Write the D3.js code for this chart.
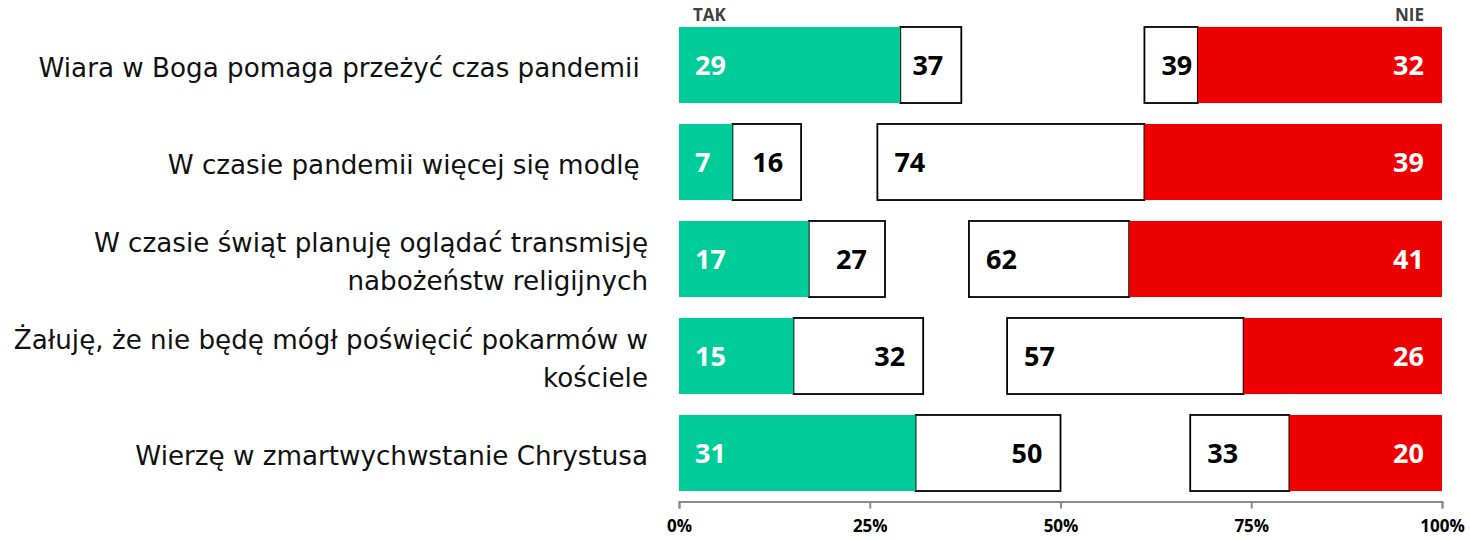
<!DOCTYPE html>
<html>
<head>
<meta charset="utf-8">
<script src="https://cdn.jsdelivr.net/npm/d3@7"></script>
<style>
    body { margin: 0; background: #fff; }
    .category { font-family: "DejaVu Sans", sans-serif; font-size: 26.2px; fill: #111; white-space: pre; }
    .valueDark { font-family: "Open Sans", sans-serif; font-weight: 700; font-size: 27px; fill: #000; }
    .valueLight { font-family: "Open Sans", sans-serif; font-weight: 700; font-size: 27px; fill: #fff; }
    .header { font-family: "Open Sans", sans-serif; font-weight: 700; font-size: 17px; fill: #404040; }
    .axis text { font-family: "Open Sans", sans-serif; font-weight: 700; font-size: 17px; fill: #000; }
    .axis path, .axis line { stroke: #8c8c8c; stroke-width: 2; }
</style>
</head>
<body>
<div id="chart"></div>
<script>
    // rows (long labels split into lines)
    const categories = [
        ["Wiara w Boga pomaga przeżyć czas pandemii "],
        ["W czasie pandemii więcej się modlę "],
        ["W czasie świąt planuję oglądać transmisję", "nabożeństw religijnych"],
        ["Żałuję, że nie będę mógł poświęcić pokarmów w", "kościele"],
        ["Wierzę w zmartwychwstanie Chrystusa"]
    ];
    const takStrong = [29, 7, 17, 15, 31];   // "zdecydowanie tak"
    const takTotal = [37, 16, 27, 32, 50];   // "tak" razem
    const nieTotal = [39, 74, 62, 57, 33];   // "nie" razem
    const nieStrong = [32, 39, 41, 26, 20];  // "zdecydowanie nie"
    const tickValues = [0, 25, 50, 75, 100];

    const width = 1470, height = 540;
    const green = "#00cc99", red = "#ee0000";

    let svg = d3.select("#chart")
        .append("svg")
        .attr("width", width)
        .attr("height", height);

    let data = categories.map((c, i) => ({
        id: i,
        label: c,
        takStrong: takStrong[i],
        takTotal: takTotal[i],
        nieTotal: nieTotal[i],
        nieStrong: nieStrong[i]
    }));

    let x = d3.scaleLinear()
        .domain([0, 100])
        .range([679, 1442]);

    let y = d3.scaleBand()
        .domain(data.map(d => d.id))
        .range([16.5, 501.5])
        .paddingInner(0.216)
        .paddingOuter(0.108);

    // white boxes (drawn first, coloured bars cover their inner edge)
    svg.selectAll(".boxTak")
        .data(data)
        .join("rect")
        .attr("class", "boxTak")
        .attr("x", d => x(d.takStrong))
        .attr("y", d => y(d.id))
        .attr("width", d => x(d.takTotal) - x(d.takStrong))
        .attr("height", y.bandwidth())
        .attr("fill", "#fff")
        .attr("stroke", "#000")
        .attr("stroke-width", 1.8);

    svg.selectAll(".boxNie")
        .data(data)
        .join("rect")
        .attr("class", "boxNie")
        .attr("x", d => x(100 - d.nieTotal))
        .attr("y", d => y(d.id))
        .attr("width", d => x(100 - d.nieStrong) - x(100 - d.nieTotal))
        .attr("height", y.bandwidth())
        .attr("fill", "#fff")
        .attr("stroke", "#000")
        .attr("stroke-width", 1.8);

    svg.selectAll(".barTak")
        .data(data)
        .join("rect")
        .attr("class", "barTak")
        .attr("x", x(0))
        .attr("y", d => y(d.id))
        .attr("width", d => x(d.takStrong) - x(0))
        .attr("height", y.bandwidth())
        .attr("fill", green);

    svg.selectAll(".barNie")
        .data(data)
        .join("rect")
        .attr("class", "barNie")
        .attr("x", d => x(100 - d.nieStrong))
        .attr("y", d => y(d.id))
        .attr("width", d => x(100) - x(100 - d.nieStrong))
        .attr("height", y.bandwidth())
        .attr("fill", red);

    // value labels
    const mid = d => y(d.id) + y.bandwidth() / 2;

    svg.selectAll(".lblTakStrong")
        .data(data)
        .join("text")
        .attr("class", "valueLight")
        .attr("x", x(0) + 16)
        .attr("y", mid)
        .attr("dy", "0.36em")
        .text(d => d.takStrong);

    svg.selectAll(".lblTakTotal")
        .data(data)
        .join("text")
        .attr("class", "valueDark")
        .attr("text-anchor", "end")
        .attr("x", d => x(d.takTotal) - 18)
        .attr("y", mid)
        .attr("dy", "0.36em")
        .text(d => d.takTotal);

    svg.selectAll(".lblNieTotal")
        .data(data)
        .join("text")
        .attr("class", "valueDark")
        .attr("x", d => x(100 - d.nieTotal) + 17)
        .attr("y", mid)
        .attr("dy", "0.36em")
        .text(d => d.nieTotal);

    svg.selectAll(".lblNieStrong")
        .data(data)
        .join("text")
        .attr("class", "valueLight")
        .attr("text-anchor", "end")
        .attr("x", x(100) - 18)
        .attr("y", mid)
        .attr("dy", "0.36em")
        .text(d => d.nieStrong);

    // category labels
    const lineH = 38;
    svg.selectAll(".category")
        .data(data)
        .join("text")
        .attr("class", "category")
        .attr("text-anchor", "end")
        .attr("x", 648)
        .attr("y", d => mid(d) + 3 - (d.label.length - 1) * lineH / 2)
        .selectAll("tspan")
        .data(d => d.label)
        .join("tspan")
        .attr("x", 648)
        .attr("dy", (t, i) => i === 0 ? "0.36em" : lineH)
        .text(t => t);

    // headers
    svg.append("text")
        .attr("class", "header")
        .attr("x", x(0) + 14)
        .attr("y", 21)
        .text("TAK");
    svg.append("text")
        .attr("class", "header")
        .attr("text-anchor", "end")
        .attr("x", x(100) - 18)
        .attr("y", 21)
        .text("NIE");

    // x axis
    svg.append("g")
        .attr("class", "axis")
        .attr("transform", `translate(0, ${y.range()[1]})`)
        .call(d3.axisBottom(x)
            .tickValues(tickValues)
            .tickSize(7)
            .tickSizeOuter(7)
            .tickPadding(11)
            .tickFormat(d => d + "%"));
</script>
</body>
</html>
